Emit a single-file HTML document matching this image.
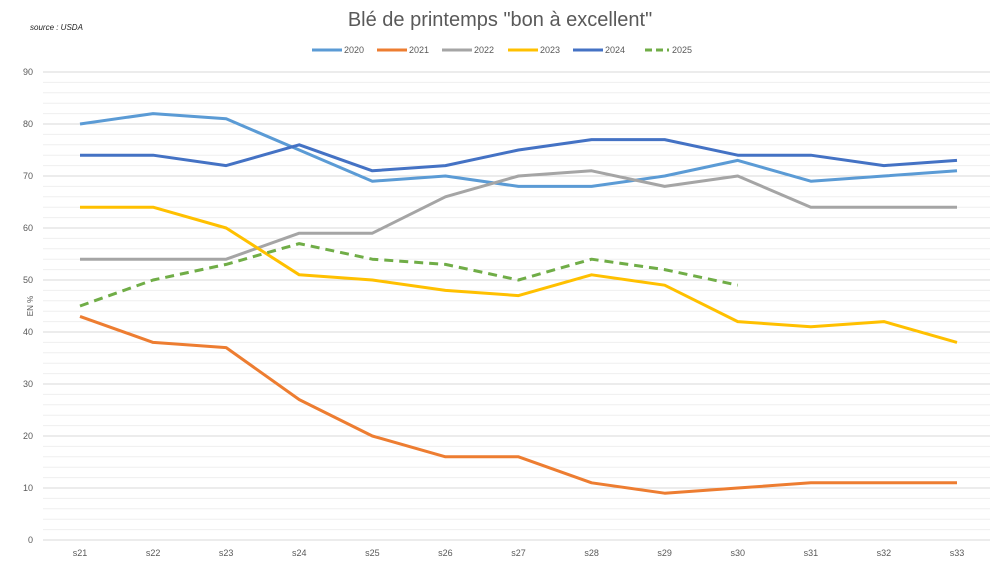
<!DOCTYPE html>
<html><head><meta charset="utf-8"><style>
body{margin:0;background:#fff;}
svg{display:block;font-family:"Liberation Sans",sans-serif;}
</style></head><body>
<svg id="c" width="1000" height="562">
<text x="500" y="26" text-anchor="middle" font-size="20" fill="#595959">Blé de printemps "bon à excellent"</text>
<text x="30" y="30" font-size="8" font-style="italic" fill="#222">source : USDA</text>
<text transform="translate(33,306) rotate(-90)" text-anchor="middle" font-size="8" fill="#595959">EN %</text>
<g id="grid"></g><g id="axes"></g><g id="series"></g><g id="legend"></g>
</svg>
<script>
const categories=["s21","s22","s23","s24","s25","s26","s27","s28","s29","s30","s31","s32","s33"];
const yTicks=[0,10,20,30,40,50,60,70,80,90];
const s2020=[80,82,81,75,69,70,68,68,70,73,69,70,71];
const s2021=[43,38,37,27,20,16,16,11,9,10,11,11,11];
const s2022=[54,54,54,59,59,66,70,71,68,70,64,64,64];
const s2023=[64,64,60,51,50,48,47,51,49,42,41,42,38];
const s2024=[74,74,72,76,71,72,75,77,77,74,74,72,73];
const s2025=[45,50,53,57,54,53,50,54,52,49];
const seriesNames=["2020","2021","2022","2023","2024","2025"];
const seriesData=[s2020,s2021,s2022,s2023,s2024,s2025];
const colors=["#5b9bd5","#ed7d31","#a5a5a5","#ffc000","#4472c4","#70ad47"];
const NS="http://www.w3.org/2000/svg";
const x0=80,x1=957,y0=540,y90=72,left=43,right=990;
const X=i=>x0+(x1-x0)*i/(categories.length-1);
const Y=v=>y0-(y0-y90)*v/90;
function mk(t,a,p){const e=document.createElementNS(NS,t);for(const k in a)e.setAttribute(k,a[k]);p.appendChild(e);return e;}
const grid=document.getElementById('grid'),axes=document.getElementById('axes'),ser=document.getElementById('series'),leg=document.getElementById('legend');
for(let v=0;v<=90;v+=2){const l=mk('line',{x1:left,x2:right,y1:Y(v),y2:Y(v),stroke:v%10===0?'#d9d9d9':'#efefef','stroke-width':1},grid);

}
yTicks.forEach(v=>{const t=mk('text',{x:33,y:Y(v)+3,'text-anchor':'end','font-size':9,fill:'#595959'},axes);t.textContent=v;

});
categories.forEach((c,i)=>{const t=mk('text',{x:X(i),y:556,'text-anchor':'middle','font-size':9,fill:'#595959'},axes);t.textContent=c;

});
seriesData.forEach((d,k)=>{const p=mk('polyline',{points:d.map((v,i)=>X(i)+','+Y(v)).join(' '),fill:'none',stroke:colors[k],'stroke-width':3,'stroke-linejoin':'round'},ser);
if(k===5)p.setAttribute('stroke-dasharray','9,6');

});
const lx=[312,377,442,508,573,645];
seriesNames.forEach((n,k)=>{const g=mk('g',{},leg);


const l=mk('line',{x1:lx[k],x2:lx[k]+(k===5?24:30),y1:50,y2:50,stroke:colors[k],'stroke-width':3},g);
if(k===5)l.setAttribute('stroke-dasharray','7,4');
const t=mk('text',{x:lx[k]+(k===5?27:32),y:53,'font-size':9,fill:'#595959'},g);t.textContent=n;});
</script>
</body></html>
